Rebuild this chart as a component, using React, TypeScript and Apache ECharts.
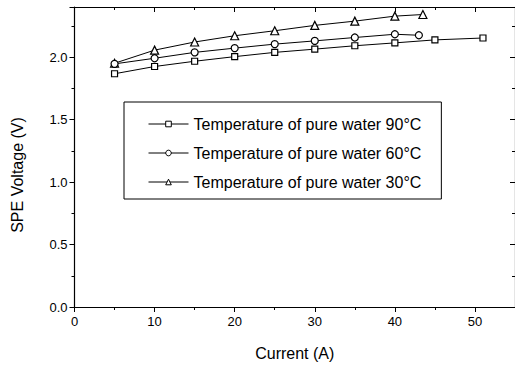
import React, { useEffect, useRef } from "react";
import * as echarts from "echarts";

const seriesNames = [
  "Temperature of pure water 90°C",
  "Temperature of pure water 60°C",
  "Temperature of pure water 30°C",
];
const current90 = [5, 10, 15, 20, 25, 30, 35, 40, 45, 51];
const voltage90 = [1.866, 1.924, 1.966, 2.003, 2.037, 2.063, 2.09, 2.113, 2.137, 2.152];
const current60 = [5, 10, 15, 20, 25, 30, 35, 40, 43];
const voltage60 = [1.945, 1.99, 2.037, 2.071, 2.103, 2.129, 2.156, 2.182, 2.174];
const current30 = [5, 10, 15, 20, 25, 30, 35, 40, 43.5];
const voltage30 = [1.95, 2.055, 2.12, 2.17, 2.21, 2.253, 2.287, 2.327, 2.34];
const symbols = ["rect", "circle", "triangle"];

const FONT = "'Liberation Sans', Arial, sans-serif";

export default function App() {
  const ref = useRef<HTMLDivElement>(null);
  useEffect(() => {
    if (!ref.current) return;
    const chart = echarts.init(ref.current, undefined, { renderer: "svg" });
    const pairs = [
      [current90, voltage90],
      [current60, voltage60],
      [current30, voltage30],
    ];
    const axisLine = { show: true, onZero: false, lineStyle: { color: "#000", width: 1.2 } };
    chart.setOption({
      animation: false,
      backgroundColor: "#fff",
      textStyle: { fontFamily: FONT, color: "#000" },
      grid: { left: 74.5, top: 7, right: -2, bottom: 55 },
      legend: {
        left: 124,
        top: 102,
        orient: "vertical",
        selectedMode: false,
        data: seriesNames,
        itemWidth: 40,
        itemHeight: 7,
        itemGap: 13,
        padding: [14, 20, 9, 24],
        borderColor: "#000",
        borderWidth: 1,
        itemStyle: { color: "#fff", borderColor: "#000", borderWidth: 1 },
        lineStyle: { color: "#000", width: 1 },
        textStyle: { fontFamily: FONT, fontSize: 16, color: "#000", width: 230 },
      },
      xAxis: [
        {
          type: "value",
          min: 0,
          max: 55,
          interval: 10,
          name: "Current (A)",
          nameLocation: "middle",
          nameGap: 38,
          nameTextStyle: { fontSize: 16, color: "#000", fontFamily: FONT },
          axisLine,
          axisTick: { show: true, inside: false, length: 5, lineStyle: { color: "#000" } },
          minorTick: { show: true, splitNumber: 2, length: 3, lineStyle: { color: "#000" } },
          axisLabel: { fontSize: 13, color: "#000", margin: 8, fontFamily: FONT, showMaxLabel: false },
          splitLine: { show: false },
        },
        {
          type: "value",
          position: "top",
          min: 0,
          max: 55,
          interval: 10,
          axisLine,
          axisTick: { show: true, inside: true, length: 5, lineStyle: { color: "#000" } },
          minorTick: { show: true, splitNumber: 2, length: 3, lineStyle: { color: "#000" } },
          axisLabel: { show: false },
          splitLine: { show: false },
        },
      ],
      yAxis: [
        {
          type: "value",
          min: 0,
          max: 2.4,
          interval: 0.5,
          axisLine,
          axisTick: { show: true, inside: false, length: 5, lineStyle: { color: "#000" } },
          minorTick: { show: true, splitNumber: 2, length: 3, lineStyle: { color: "#000" } },
          axisLabel: {
            fontSize: 13,
            color: "#000",
            margin: 7,
            fontFamily: FONT,
            showMaxLabel: false,
            formatter: (v: number) => v.toFixed(1),
          },
          splitLine: { show: false },
        },
        {
          type: "value",
          position: "right",
          min: 0,
          max: 2.4,
          interval: 0.5,
          axisLine,
          axisTick: { show: true, inside: true, length: 5, lineStyle: { color: "#000" } },
          minorTick: { show: true, splitNumber: 2, length: 3, lineStyle: { color: "#000" } },
          axisLabel: { show: false },
          splitLine: { show: false },
        },
      ],
      graphic: [
        {
          type: "text",
          x: 17.5,
          y: 175,
          rotation: Math.PI / 2,
          style: {
            text: "SPE Voltage (V)",
            fontSize: 16,
            fontFamily: FONT,
            fill: "#000",
            align: "center",
            verticalAlign: "middle",
          },
        },
      ],
      series: pairs.map(([xs, ys], i) => ({
        name: seriesNames[i],
        type: "line",
        xAxisIndex: 0,
        yAxisIndex: 0,
        data: xs.map((x, j) => [x, ys[j]]),
        symbol: symbols[i],
        symbolSize: i === 0 ? 6 : i === 1 ? 7 : 8,
        showAllSymbol: true,
        lineStyle: { color: "#000", width: 1 },
        itemStyle: { color: "#fff", borderColor: "#000", borderWidth: 1.2 },
        z: 3 - i,
      })),
    });
    return () => chart.dispose();
  }, []);
  return (
    <div
      ref={ref}
      style={{ position: "fixed", left: 0, top: 0, width: 515, height: 366, background: "#fff" }}
    />
  );
}
